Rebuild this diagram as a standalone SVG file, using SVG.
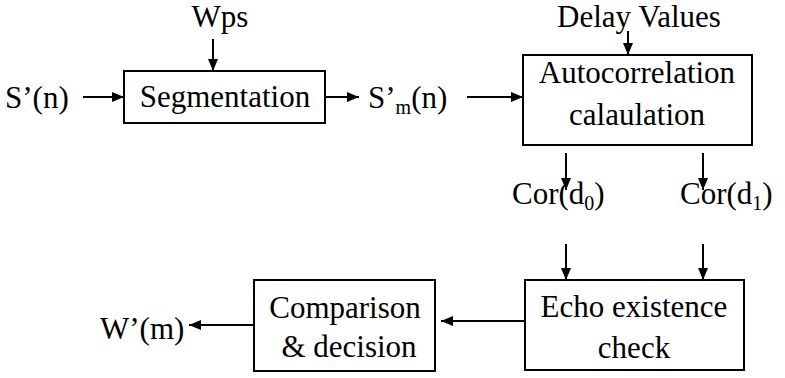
<svg xmlns="http://www.w3.org/2000/svg" width="785" height="378" viewBox="0 0 785 378">
<style>
text{font-family:"Liberation Serif","Times New Roman",Tinos,"DejaVu Serif",serif;font-size:31px;fill:#000}
.box{fill:#fff;stroke:#000;stroke-width:2}
.c{text-anchor:middle}
.ln{stroke:#000;stroke-width:2;fill:none;marker-end:url(#ah)}
.sub{font-size:20px}
</style>
<defs>
<marker id="ah" markerWidth="12" markerHeight="10" refX="12" refY="5" orient="auto" markerUnits="userSpaceOnUse">
<path d="M0,0 L12,5 L0,10 Z" fill="#000"/>
</marker>
</defs>
<g id="connectors">
<line class="ln" x1="213" y1="39" x2="213" y2="71"/>
<line class="ln" x1="83" y1="97" x2="124" y2="97"/>
<line class="ln" x1="325" y1="97" x2="359" y2="97"/>
<line class="ln" x1="467" y1="97" x2="523" y2="97"/>
<line class="ln" x1="628" y1="31" x2="628" y2="55"/>
<line class="ln" x1="566" y1="153" x2="566" y2="190"/>
<line class="ln" x1="703" y1="153" x2="703" y2="190"/>
<line class="ln" x1="566" y1="244" x2="566" y2="280"/>
<line class="ln" x1="703" y1="244" x2="703" y2="280"/>
<line class="ln" x1="525" y1="321" x2="441" y2="321"/>
<line class="ln" x1="254" y1="325" x2="189" y2="325"/>
</g>
<g id="wps"><text class="c" x="220" y="27" font-family="Liberation Serif, serif">Wps</text></g>
<g id="sn"><text x="5" y="108">S’(n)</text></g>
<g id="segmentation">
<rect class="box" x="124" y="71" width="201" height="52"/>
<text class="c" x="225" y="107">Segmentation</text>
</g>
<g id="smn"><text x="368" y="108">S’<tspan class="sub" dy="6">m</tspan><tspan dy="-6">(n)</tspan></text></g>
<g id="delay"><text class="c" x="639" y="27">Delay Values</text></g>
<g id="autocorrelation">
<rect class="box" x="523" y="55" width="229" height="90"/>
<text class="c" x="637" y="83">Autocorrelation</text>
<text class="c" x="637" y="125">calaulation</text>
</g>
<g id="cord0"><text x="512" y="204">Cor(d<tspan class="sub" dy="6">0</tspan><tspan dy="-6">)</tspan></text></g>
<g id="cord1"><text x="680" y="204">Cor(d<tspan class="sub" dy="6">1</tspan><tspan dy="-6">)</tspan></text></g>
<g id="echo">
<rect class="box" x="525" y="280" width="219" height="90"/>
<text class="c" x="634" y="317">Echo existence</text>
<text class="c" x="634" y="358">check</text>
</g>
<g id="comparison">
<rect class="box" x="254" y="280" width="181" height="91"/>
<text class="c" x="345" y="318">Comparison</text>
<text class="c" x="349" y="357">&amp; decision</text>
</g>
<g id="wm"><text x="100" y="339">W’(m)</text></g>
</svg>
